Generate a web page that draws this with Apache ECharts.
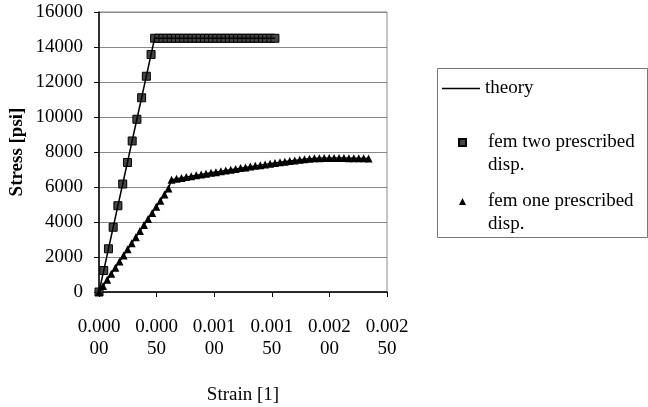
<!DOCTYPE html>
<html>
<head>
<meta charset="utf-8">
<script src="https://cdn.jsdelivr.net/npm/echarts@6/dist/echarts.min.js"></script>
<style>html,body{margin:0;padding:0;background:#fff;}#c{width:648px;height:407px;}</style>
</head>
<body>
<div id="c"></div>
<script>
var xTickLabels = ['0.000\n00','0.000\n50','0.001\n00','0.001\n50','0.002\n00','0.002\n50'];
var yTicks = [0,2000,4000,6000,8000,10000,12000,14000,16000];

var theoryTwoStrain = [0, 0.000483, 0.001527];
var theoryTwoStress = [0, 14500, 14500];
var theoryOneStrain = [0, 0.000603, 0.00063, 0.0008, 0.0010, 0.0012, 0.0014, 0.0016, 0.0018, 0.0019, 0.0021, 0.00234];
var theoryOneStress = [0, 5910, 6420, 6620, 6840, 7040, 7250, 7440, 7600, 7650, 7660, 7630];

var femTwoStrain = [0, 0.000041, 0.000082, 0.000123, 0.000164, 0.000206, 0.000247, 0.000288, 0.000329, 0.000370, 0.000411, 0.000452,
  0.000483, 0.000519, 0.000555, 0.000591, 0.000627, 0.000663, 0.000699, 0.000735, 0.000771, 0.000807, 0.000843, 0.000879,
  0.000915, 0.000951, 0.000987, 0.001023, 0.001059, 0.001095, 0.001131, 0.001167, 0.001203, 0.001239, 0.001275, 0.001311,
  0.001347, 0.001383, 0.001419, 0.001455, 0.001491, 0.001527];
var femTwoStress = [0, 1230, 2470, 3700, 4930, 6170, 7400, 8630, 9870, 11100, 12330, 13570,
  14500, 14500, 14500, 14500, 14500, 14500, 14500, 14500, 14500, 14500, 14500, 14500,
  14500, 14500, 14500, 14500, 14500, 14500, 14500, 14500, 14500, 14500, 14500, 14500,
  14500, 14500, 14500, 14500, 14500, 14500];

var femOneStrain = [0, 0.0000355, 0.000071, 0.0001065, 0.000142, 0.0001775, 0.000213, 0.0002485, 0.000284, 0.0003195, 0.000355,
  0.0003905, 0.000426, 0.0004615, 0.000497, 0.0005325, 0.000568, 0.000603,
  0.000630, 0.000673, 0.000716, 0.000758, 0.000801, 0.000844, 0.000887, 0.000929, 0.000972, 0.001015,
  0.001058, 0.001100, 0.001143, 0.001186, 0.001229, 0.001271, 0.001314, 0.001357, 0.001400, 0.001442,
  0.001485, 0.001528, 0.001571, 0.001613, 0.001656, 0.001699, 0.001742, 0.001784, 0.001827, 0.001870,
  0.001913, 0.001955, 0.001998, 0.002041, 0.002084, 0.002126, 0.002169, 0.002212, 0.002255, 0.002297, 0.002340];
var femOneStress = [0, 350, 700, 1040, 1390, 1740, 2090, 2440, 2780, 3130, 3480,
  3830, 4170, 4520, 4870, 5220, 5570, 5910,
  6420, 6470, 6520, 6570, 6620, 6670, 6720, 6760, 6810, 6850,
  6900, 6940, 6990, 7030, 7080, 7120, 7170, 7210, 7250, 7290,
  7330, 7370, 7410, 7450, 7480, 7520, 7560, 7590, 7620, 7640,
  7650, 7660, 7660, 7660, 7660, 7660, 7650, 7650, 7640, 7640, 7630];

function pairs(xs, ys) { return xs.map(function (x, i) { return [x, ys[i]]; }); }

var FONT = 'Liberation Serif';
var chart = echarts.init(document.getElementById('c'), null, {renderer: 'canvas'});
chart.setOption({
  animation: false,
  backgroundColor: '#fff',
  textStyle: {fontFamily: FONT, color: '#000'},
  grid: {left: 99, right: 261, top: 12, bottom: 115, show: true, borderColor: '#888', borderWidth: 1,
         containLabel: false, outerBoundsMode: 'none'},
  graphic: [{
    type: 'rect', left: 437, top: 68, z: -1,
    shape: {width: 210, height: 169},
    style: {fill: '#fff', stroke: '#777', lineWidth: 1}
  }],
  legend: [{
    data: [{name: 'theory', icon: 'rect'}],
    orient: 'vertical', left: 442, top: 77,
    itemWidth: 38, itemHeight: 1.5, padding: 0,
    itemStyle: {color: '#000', borderWidth: 0},
    textStyle: {fontFamily: FONT, fontSize: 19, color: '#000', lineHeight: 23}
  }, {
    data: [{name: 'fem two prescribed\ndisp.', icon: 'rect'}, {name: 'fem one prescribed\ndisp.', icon: 'triangle'}],
    orient: 'vertical', left: 458, top: 108,
    itemWidth: 7, itemHeight: 7, itemGap: -10, padding: 0,
    formatter: function (name) { return '\n' + name; },
    textStyle: {fontFamily: FONT, fontSize: 19, color: '#000', lineHeight: 23, padding: [0, 0, 0, 17]}
  }],
  xAxis: {
    type: 'value', min: 0, max: 0.0025, interval: 0.0005,
    name: 'Strain [1]', nameLocation: 'middle', nameGap: 94,
    nameTextStyle: {fontFamily: FONT, fontSize: 19, color: '#000'},
    axisLine: {lineStyle: {color: '#000', width: 1.5}},
    axisTick: {show: true, inside: false, length: 5, lineStyle: {color: '#000'}},
    axisLabel: {
      fontFamily: FONT, fontSize: 19, color: '#000', lineHeight: 22, margin: 24,
      formatter: function (v) { return xTickLabels[Math.round(v / 0.0005)]; }
    },
    splitLine: {show: false}
  },
  yAxis: {
    type: 'value', min: 0, max: 16000, interval: 2000,
    name: 'Stress [psi]', nameLocation: 'middle', nameGap: 72,
    nameTextStyle: {fontFamily: FONT, fontSize: 19, fontWeight: 'bold', color: '#000'},
    axisLine: {show: true, lineStyle: {color: '#000', width: 1.5}},
    axisTick: {show: true, inside: false, length: 5, lineStyle: {color: '#000'}},
    axisLabel: {
      fontFamily: FONT, fontSize: 19, color: '#000', margin: 16,
      formatter: function (v) { return yTicks.indexOf(v) >= 0 ? String(v) : ''; }
    },
    splitLine: {show: true, lineStyle: {color: '#888', width: 1}}
  },
  series: [{
    name: 'theory', type: 'line', data: pairs(theoryTwoStrain, theoryTwoStress),
    symbol: 'none', lineStyle: {color: '#000', width: 1.5}, itemStyle: {color: '#000'}, z: 5
  }, {
    name: 'theory', type: 'line', data: pairs(theoryOneStrain, theoryOneStress),
    symbol: 'none', lineStyle: {color: '#000', width: 1.5}, itemStyle: {color: '#000'}, z: 5
  }, {
    name: 'fem two prescribed\ndisp.', type: 'scatter', data: pairs(femTwoStrain, femTwoStress),
    symbol: 'rect', symbolSize: 8,
    itemStyle: {color: '#444', borderColor: '#000', borderWidth: 1, opacity: 1}, z: 3
  }, {
    name: 'fem one prescribed\ndisp.', type: 'scatter', data: pairs(femOneStrain, femOneStress),
    symbol: 'triangle', symbolSize: 8,
    itemStyle: {color: '#000', opacity: 1}, z: 3
  }]
});
</script>
</body>
</html>
